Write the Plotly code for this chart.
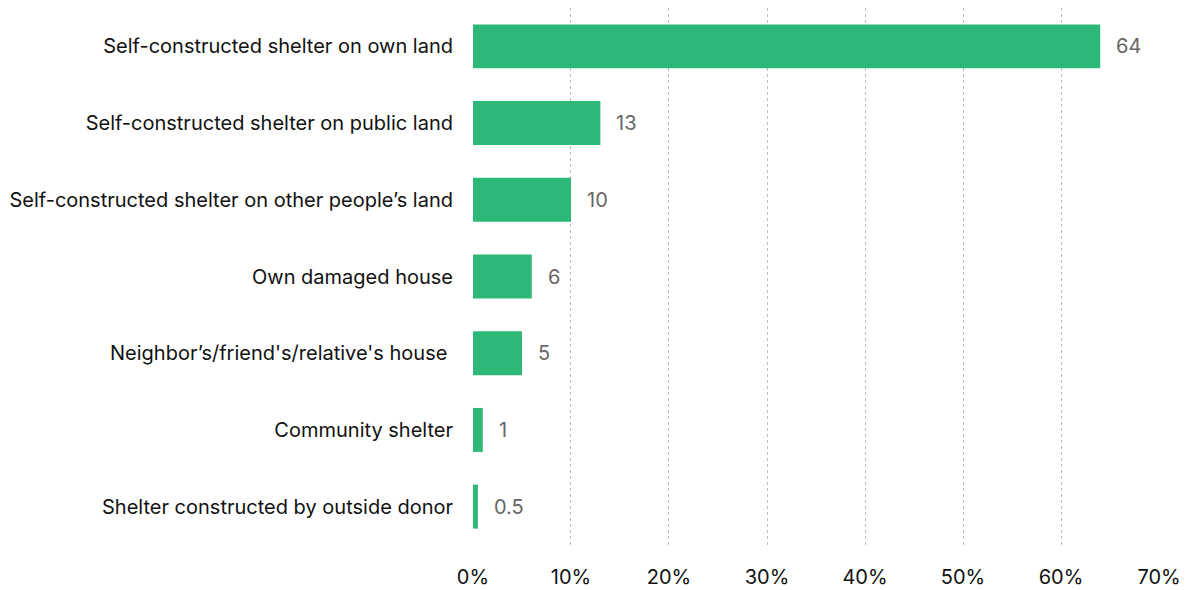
import plotly.graph_objects as go

categories = [
    "Self-constructed shelter on own land",
    "Self-constructed shelter on public land",
    "Self-constructed shelter on other people\u2019s land",
    "Own damaged house",
    "Neighbor\u2019s/friend's/relative's house ",
    "Community shelter",
    "Shelter constructed by outside donor",
]
values = [64, 13, 10, 6, 5, 1, 0.5]
value_labels = ["64", "13", "10", "6", "5", "1", "0.5"]
x_ticks = [0, 10, 20, 30, 40, 50, 60, 70]
x_tick_labels = ["0%", "10%", "20%", "30%", "40%", "50%", "60%", "70%"]

FONT = "Inter, Roboto, sans-serif"
BAR = "#2db877"

fig = go.Figure(
    go.Bar(
        x=values,
        y=categories,
        orientation="h",
        marker=dict(color=BAR, line=dict(width=0)),
        width=0.573,
        hoverinfo="skip",
    )
)

for v, lab, cat in zip(values, value_labels, categories):
    fig.add_annotation(
        x=v, y=cat, text=lab, showarrow=False,
        xanchor="left", yanchor="middle", xshift=14,
        font=dict(family=FONT, size=20, color="#666666"),
    )

fig.update_layout(
    width=1191, height=590,
    margin=dict(l=472, r=31, t=8, b=45),
    paper_bgcolor="white", plot_bgcolor="white",
    showlegend=False,
    font=dict(family=FONT, size=20, color="#111111"),
)
# small padding on the range so the 0% and 70% grid lines are drawn
fig.update_xaxes(
    range=[-0.1, 70.1], tickvals=x_ticks, ticktext=x_tick_labels,
    showgrid=True, gridcolor="#bdbdbd", griddash="dot", gridwidth=1,
    zeroline=False, showline=False,
    ticks="outside", ticklen=14, tickcolor="rgba(0,0,0,0)",
    tickfont=dict(family=FONT, size=20, color="#111111"),
    automargin=False,
    fixedrange=True,
)
fig.update_yaxes(
    categoryorder="array", categoryarray=categories[::-1],
    showgrid=False, zeroline=False, showline=False,
    ticks="outside", ticklen=14, tickcolor="rgba(0,0,0,0)",
    tickfont=dict(family=FONT, size=20, color="#111111"),
    range=[-0.5, 6.5],
    automargin=False,
    fixedrange=True,
)

fig.write_html("out.html")
